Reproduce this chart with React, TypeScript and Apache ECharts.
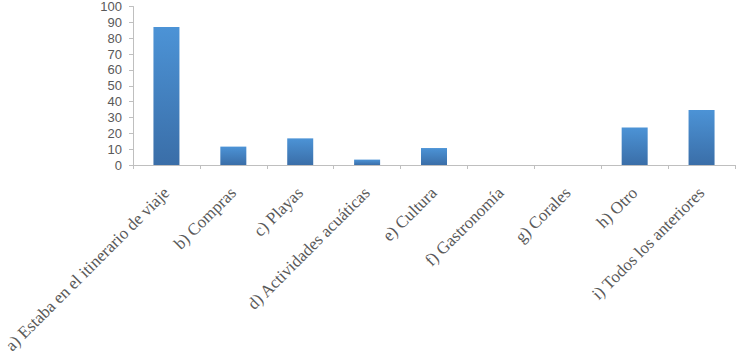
import React, { useEffect, useRef } from "react";
import * as echarts from "echarts";

const categories = [
  "a) Estaba en el itinerario de viaje",
  "b) Compras",
  "c) Playas",
  "d) Actividades acuáticas",
  "e) Cultura",
  "f) Gastronomía",
  "g) Corales",
  "h) Otro",
  "i) Todos los anteriores",
];
const values = [87, 11.6, 16.8, 3.4, 10.7, 0, 0, 23.6, 34.7];
const yMin = 0;
const yMax = 100;
const yInterval = 10;

export default function App() {
  const ref = useRef<HTMLDivElement>(null);
  useEffect(() => {
    if (!ref.current) return;
    const chart = echarts.init(ref.current, undefined, { renderer: "svg" });
    chart.setOption({
      animation: false,
      grid: { left: 133, right: 4, top: 5, bottom: 193, containLabel: false },
      xAxis: {
        type: "category",
        data: categories,
        axisLine: { show: true, lineStyle: { color: "#bfbfbf", width: 1 } },
        axisTick: { show: true, length: 4, lineStyle: { color: "#bfbfbf" } },
        axisLabel: {
          rotate: 45,
          interval: 0,
          margin: 25,
          fontFamily: "Liberation Serif",
          fontSize: 17,
          color: "#595959",
        },
      },
      yAxis: {
        type: "value",
        min: yMin,
        max: yMax,
        interval: yInterval,
        splitLine: { show: false },
        axisLine: { show: true, lineStyle: { color: "#bfbfbf", width: 1 } },
        axisTick: { show: true, length: 4, lineStyle: { color: "#bfbfbf" } },
        axisLabel: {
          fontFamily: "Liberation Sans",
          fontSize: 13,
          color: "#595959",
          margin: 11,
        },
      },
      series: [
        {
          type: "bar",
          data: values,
          barWidth: 26,
          itemStyle: {
            color: new echarts.graphic.LinearGradient(0, 0, 0, 1, [
              { offset: 0, color: "#4c93d6" },
              { offset: 1, color: "#3a6ea8" },
            ]),
          },
        },
      ],
    });
    return () => chart.dispose();
  }, []);
  return <div ref={ref} style={{ width: 739, height: 358, position: "absolute", left: 0, top: 0 }} />;
}
